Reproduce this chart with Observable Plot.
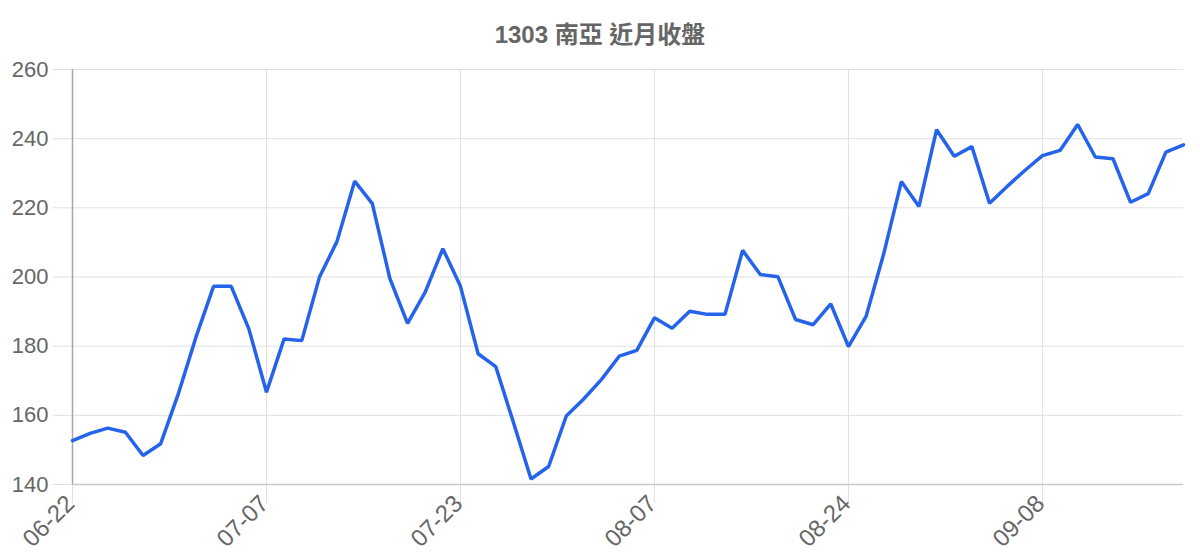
<!DOCTYPE html>
<html>
<head>
<meta charset="utf-8">
<script src="https://cdn.jsdelivr.net/npm/d3@7"></script>
<script src="https://cdn.jsdelivr.net/npm/@observablehq/plot@0.6"></script>
<style>
  html, body { margin: 0; padding: 0; background: #fff; }
  #title {
    width: 1200px; height: 33px; padding-top: 22px; line-height: 26px;
    text-align: center; font-family: "Liberation Sans", "Noto Sans CJK TC", sans-serif;
    font-weight: bold; font-size: 24px; color: #666;
  }
</style>
</head>
<body>
<div id="title">1303 南亞 近月收盤</div>
<div id="chart"></div>
<script>
const dates = [
  "06-22","06-23","06-26","06-27","06-28","06-29","06-30","07-03","07-04","07-05","07-06",
  "07-07","07-10","07-11","07-12","07-13","07-14","07-17","07-18","07-19","07-20","07-21",
  "07-23","07-24","07-25","07-26","07-29","07-30","07-31","08-01","08-02","08-05","08-06",
  "08-07","08-08","08-09","08-12","08-13","08-14","08-15","08-16","08-19","08-20","08-21",
  "08-24","08-26","08-27","08-28","08-29","08-30","09-02","09-03","09-04","09-05","09-06",
  "09-08","09-09","09-10","09-11","09-12","09-13","09-16","09-17","09-18"
];
const closes = [
  152.7, 154.8, 156.3, 155.1, 148.4, 151.8, 166.2, 182.6, 197.3, 197.3, 185.0,
  166.7, 182.1, 181.6, 199.9, 210.3, 227.7, 221.2, 199.5, 186.6, 195.6, 208.2,
  197.3, 177.8, 174.1, 158.0, 141.6, 145.2, 159.8, 164.8, 170.4, 177.1, 178.8,
  188.2, 185.2, 190.1, 189.2, 189.2, 207.7, 200.7, 200.1, 187.7, 186.2, 192.2,
  179.9, 188.6, 206.7, 227.6, 220.4, 242.6, 234.9, 237.7, 221.3, 226.2, 230.8,
  235.1, 236.6, 244.1, 234.7, 234.2, 221.6, 224.1, 236.1, 238.2
];
const xTickLabels = ["06-22","07-07","07-23","08-07","08-24","09-08"];
const yTicks = [140, 160, 180, 200, 220, 240, 260];

const table = dates.map((d, i) => ({date: d, close: closes[i]}));

const chart = Plot.plot({
  width: 1200,
  height: 505,
  marginTop: 14,
  marginBottom: 76,
  marginLeft: 72,
  marginRight: 17,
  style: {fontFamily: "'Liberation Sans', Arial, sans-serif", fontSize: "22px", color: "#666", background: "#fff"},
  x: {type: "point", domain: dates, padding: 0},
  y: {domain: [140, 260]},
  marks: [
    Plot.ruleY(yTicks, {stroke: "#e0e0e0", strokeWidth: 1}),
    Plot.ruleX(xTickLabels, {stroke: "#e0e0e0", strokeWidth: 1}),
    Plot.axisY({ticks: yTicks, tickSize: 19, tickPadding: 5, stroke: "#e0e0e0", strokeOpacity: 1, fill: "#666", label: null, fontSize: 22}),
    Plot.axisX({ticks: xTickLabels, tickSize: 19, tickFormat: () => "", stroke: "#e0e0e0", strokeOpacity: 1, label: null}),
    Plot.axisX({ticks: xTickLabels, tickSize: 0, tickPadding: 15, tickRotate: -45, fill: "#666", label: null, fontSize: 24, dx: -2}),
    Plot.ruleY([140], {stroke: "#c8c8c8", strokeWidth: 1.5}),
    Plot.ruleX([dates[0]], {stroke: "#a8a8a8", strokeWidth: 1.5}),
    Plot.line(table, {x: "date", y: "close", stroke: "#2563eb", strokeWidth: 3.5, strokeLinejoin: "miter"})
  ]
});
document.getElementById("chart").appendChild(chart);
</script>
</body>
</html>
